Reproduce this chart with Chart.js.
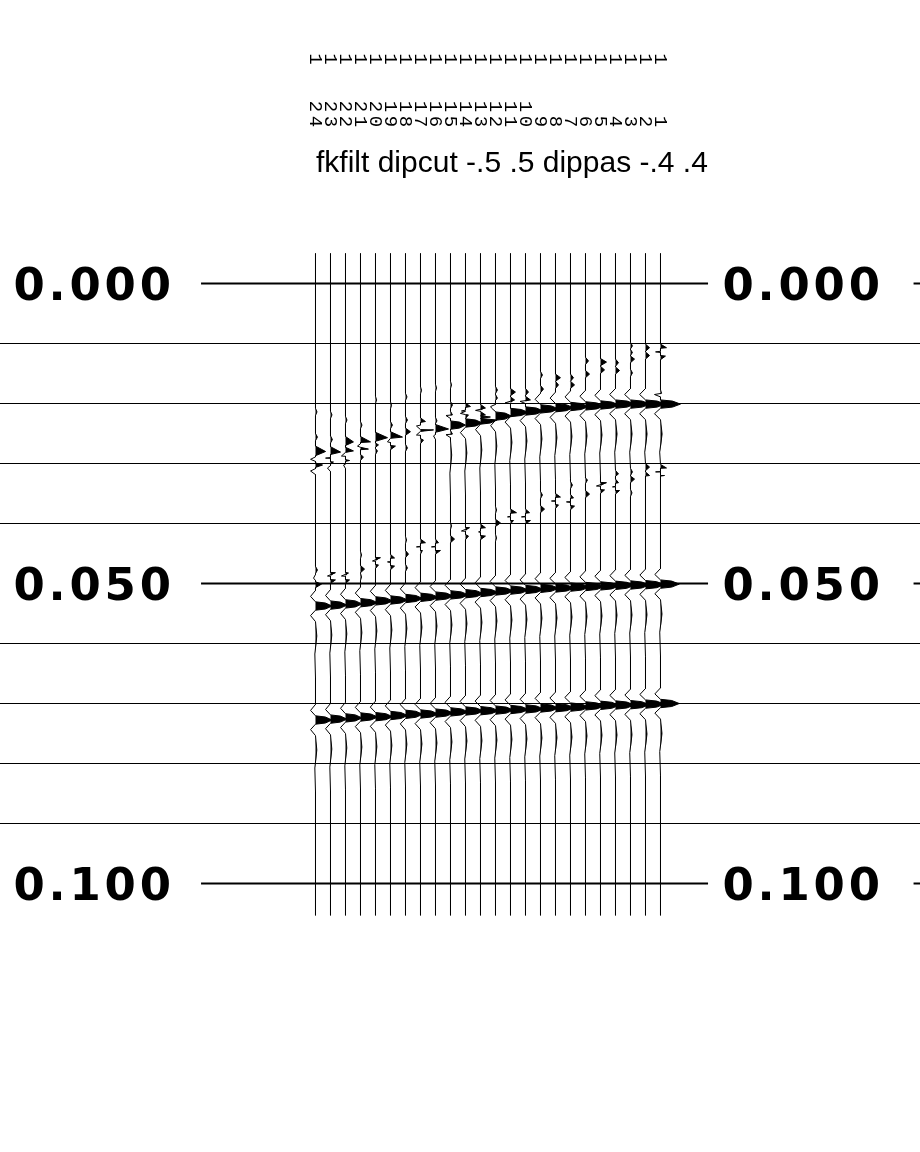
<!DOCTYPE html>
<html>
<head>
<meta charset="utf-8">
<title>fkfilt dipcut</title>
<script src="https://cdn.jsdelivr.net/npm/chart.js@4/dist/chart.umd.js"></script>
<style>
    html, body { margin: 0; background: #fff; }
    canvas { display: block; }
</style>
</head>
<body>
<canvas id="seismicChart" width="920" height="1152"></canvas>
<script>
const titleText = 'fkfilt dipcut -.5 .5 dippas -.4 .4';

// Trace numbers, left to right
const traceNumbers = [24, 23, 22, 21, 20, 19, 18, 17, 16, 15, 14, 13, 12, 11, 10, 9, 8, 7, 6, 5, 4, 3, 2, 1];
const keyLabels = ['1', '1', '1', '1', '1', '1', '1', '1', '1', '1', '1', '1', '1', '1', '1', '1', '1', '1', '1', '1', '1', '1', '1', '1'];

// Time axis (s)
const gridTimes = [0, 0.01, 0.02, 0.03, 0.04, 0.05, 0.06, 0.07, 0.08, 0.09, 0.1];
const majorTimes = [0, 0.05, 0.1];
const majorLabels = ['0.000', '0.050', '0.100'];
const traceStartMs = -5;
const traceEndMs = 105.3;

// Strong dipping reflectors: arrival time (ms) and amplitude (trace spacings) for each trace
const reflectorB = [53.75, 53.6, 53.4, 53.2, 52.9, 52.75, 52.5, 52.3, 52.1, 51.9, 51.7, 51.5, 51.25, 51.1, 51, 50.8, 50.75, 50.6, 50.5, 50.4, 50.3, 50.25, 50.2, 50.1];
const reflectorC = [72.75, 72.6, 72.4, 72.25, 72.2, 72, 71.8, 71.75, 71.6, 71.4, 71.25, 71.2, 71.1, 71, 70.9, 70.75, 70.7, 70.6, 70.4, 70.3, 70.25, 70.2, 70.1, 70];
const reflectorAmpB = [1.1, 1.1, 1.1, 1.15, 1.15, 1.15, 1.15, 1.2, 1.2, 1.2, 1.2, 1.2, 1.2, 1.2, 1.2, 1.2, 1.25, 1.25, 1.25, 1.25, 1.25, 1.25, 1.25, 1.25];
const reflectorAmpC = [1.1, 1.1, 1.1, 1.15, 1.15, 1.15, 1.15, 1.2, 1.2, 1.2, 1.2, 1.2, 1.2, 1.2, 1.2, 1.2, 1.25, 1.25, 1.25, 1.25, 1.25, 1.25, 1.25, 1.25];

// Shape of a strong arrival around its peak: thick band with a tapering nose
const waveletMs = [-2.6, -1.6, -0.7, -0.5, 0, 0.5, 0.7, 1.6, 2.6, 5, 8, 12];
const waveletGain = [0, -0.3, 0, 0.6, 1, 0.6, 0, -0.3, 0, 0.08, -0.04, 0];

// Smaller arrivals per trace, flat pairs of time (ms), amplitude
const spikes0 = [21.4, .1, 25.6, .13, 28, .67, 29.3, -.33, 30.25, .47, 31.25, -.33, 47.75, .13, 49.1, -.13, 50.1, .4];
const spikes1 = [21.9, .1, 26, .13, 28.1, .67, 29.1, -.33, 29.75, .2, 30.75, -.2, 48.2, .33, 48.75, -.2, 49.4, .33];
const spikes2 = [22.75, .1, 26.4, .53, 27.9, .53, 28.75, -.27, 29.5, .27, 30.25, -.13, 48.25, .2, 48.75, -.27, 49.4, .27];
const spikes3 = [23.6, .1, 26.4, .67, 27.1, -.2, 27.6, .53, 28.9, .2, 45.25, .07, 47.6, .27, 48.9, .07];
const spikes4 = [19.4, .07, 25.7, .8, 26.9, .2, 27.9, .13, 45.7, .33, 46.25, -.2, 46.9, .2];
const spikes5 = [20.3, .07, 23.6, .13, 25.6, .8, 26.4, -.2, 27.1, .33, 45.75, .27, 46.4, -.2, 47.1, .27];
const spikes6 = [18.9, .1, 22.75, .13, 24.7, .33, 27.4, .13, 42.75, .07, 45.1, .2, 47.4, .13];
const spikes7 = [17.8, .07, 23, .33, 23.75, -.27, 24.4, .87, 25.25, -.27, 26.1, .2, 43.2, .33, 43.9, -.27, 44.5, .13];
const spikes8 = [17.4, .07, 22.9, .1, 24.25, .87, 25.4, -.13, 43.2, .2, 43.9, -.27, 44.5, .33];
const spikes9 = [16.9, .07, 20.25, .13, 21.9, .13, 23.6, 1, 25.1, .13, 40.4, .07, 42.6, .27];
const spikes10 = [20.5, .33, 21.25, -.27, 21.9, .2, 23.25, 1.13, 40.7, .27, 41.25, -.27, 42.1, .2];
const spikes11 = [20.75, .33, 21.9, .33, 22.75, 1.1, 40.7, .33, 41.4, -.13, 42.1, .33];
const spikes12 = [17.75, .13, 19.1, .13, 20.75, -.27, 22.1, 1.07, 37.75, .07, 39.9, .33, 42.4, .07];
const spikes13 = [18.1, .33, 19.4, .27, 21.5, 1.2, 38.2, .4, 38.9, -.2, 39.5, .2];
const spikes14 = [18.1, .2, 19.4, .33, 21.25, 1.2, 38.2, .27, 38.9, -.27, 39.5, .33];
const spikes15 = [15.25, .13, 17.6, .2, 20.9, 1.2, 35.25, .13, 37.6, .27];
const spikes16 = [15.7, .33, 16.9, .2, 20.7, 1.2, 35.6, .33, 36.25, -.27, 36.9, .2];
const spikes17 = [15.7, .2, 16.9, .27, 20.5, 1.2, 33.6, .13, 35.75, .2, 36.4, -.27, 37.1, .27];
const spikes18 = [12.9, .2, 15.1, .27, 20.4, 1.25, 32.75, .13, 35.1, .27];
const spikes19 = [13.1, .4, 14.4, .27, 20.25, 1.25, 33.2, .4, 33.75, -.27, 34.4, .27];
const spikes20 = [13.2, .2, 14.5, .27, 20.1, 1.3, 31.75, .2, 33.2, .2, 33.9, -.2, 34.5, .27];
const spikes21 = [10.4, .13, 11.5, .13, 12.6, .27, 14.9, .13, 20.1, 1.3, 31.4, .13, 32.6, .27, 34.9, .1];
const spikes22 = [10.7, .27, 12, .27, 20.1, 1.3, 30.6, .27, 32, .27];
const spikes23 = [10.7, .4, 11.4, -.33, 12.1, .33, 18.3, .07, 20.1, 1.33, 30.75, .4, 31.4, -.33, 32, .27];
const traceSpikes = [spikes0, spikes1, spikes2, spikes3, spikes4, spikes5, spikes6, spikes7, spikes8, spikes9, spikes10, spikes11,
    spikes12, spikes13, spikes14, spikes15, spikes16, spikes17, spikes18, spikes19, spikes20, spikes21, spikes22, spikes23];

// One trace as [time ms, amplitude] samples, sorted by time
function traceSamples(i) {
    const samples = [[traceStartMs, 0], [traceEndMs, 0]];
    const list = traceSpikes[i];
    for (let k = 0; k < list.length; k += 2) {
        const t = list[k], a = list[k + 1];
        if (a >= 1) {
            waveletMs.forEach((w, n) => samples.push([t + w, a * waveletGain[n]]));
        } else {
            const half = a > 0.5 ? 0.9 : 0.6;
            samples.push([t - half, 0], [t, a], [t + half, 0]);
        }
    }
    waveletMs.forEach((w, n) => samples.push([reflectorB[i] + w, reflectorAmpB[i] * waveletGain[n]]));
    waveletMs.forEach((w, n) => samples.push([reflectorC[i] + w, reflectorAmpC[i] * waveletGain[n]]));
    return samples.sort((p, q) => p[0] - q[0]);
}

// The x scale runs backwards, so a push to the right is a smaller value
function buildDatasets() {
    const datasets = [];
    majorTimes.forEach(t => {
        [[31.63, -2.17], [-15.87, -16.3]].forEach(([a, b]) => {
            datasets.push({
                data: [{ x: a, y: t }, { x: b, y: t }],
                borderColor: '#000',
                borderWidth: 2,
                pointRadius: 0
            });
        });
    });
    traceNumbers.forEach((trace, i) => {
        const samples = traceSamples(i);
        datasets.push({
            data: samples.map(s => ({ x: trace - Math.max(s[1], 0), y: s[0] / 1000 })),
            borderWidth: 0,
            pointRadius: 0,
            backgroundColor: '#000',
            fill: { value: trace }
        });
        datasets.push({
            data: samples.map(s => ({ x: trace - s[1], y: s[0] / 1000 })),
            borderColor: '#000',
            borderWidth: 1,
            pointRadius: 0,
            fill: false
        });
    });
    return datasets;
}

const xRange = { type: 'linear', min: -16.3, max: 45.0333, reverse: true };

function headerAxis(anchorTime, labelFor) {
    return {
        ...xRange,
        position: { y: anchorTime },
        grid: { display: false },
        border: { display: false },
        afterBuildTicks: scale => { scale.ticks = traceNumbers.map(v => ({ value: v })); },
        ticks: {
            autoSkip: false,
            minRotation: -90,
            maxRotation: -90,
            padding: 0,
            color: '#000',
            font: { family: '"Liberation Mono"', size: 19 },
            callback: labelFor
        }
    };
}

// Title and big time labels need their own letter spacing, so they are painted here
const textPlugin = {
    id: 'textPlugin',
    beforeDraw(chart) {
        chart.ctx.letterSpacing = '3.6px';
    },
    afterDraw(chart) {
        const ctx = chart.ctx;
        const yScale = chart.scales.y;
        ctx.save();
        ctx.fillStyle = '#000';
        ctx.textBaseline = 'alphabetic';
        ctx.textAlign = 'left';
        ctx.letterSpacing = '0px';
        ctx.font = '30px "Liberation Sans"';
        ctx.fillText(titleText, 316, 172);
        ctx.letterSpacing = '3.8px';
        ctx.font = 'bold 45px "DejaVu Sans"';
        majorTimes.forEach((t, i) => {
            const y = yScale.getPixelForValue(t) + 16;
            ctx.fillText(majorLabels[i], 13.5, y);
            ctx.fillText(majorLabels[i], 722.5, y);
        });
        ctx.restore();
    }
};

new Chart(document.getElementById('seismicChart').getContext('2d'), {
    type: 'line',
    data: { datasets: buildDatasets() },
    plugins: [textPlugin],
    options: {
        indexAxis: 'y',
        responsive: false,
        animation: false,
        events: [],
        layout: { padding: 0 },
        plugins: { legend: { display: false }, tooltip: { enabled: false }, title: { display: false } },
        scales: {
            x: { ...xRange, display: false },
            y: {
                type: 'linear',
                reverse: true,
                min: -0.04725,
                max: 0.14475,
                position: 'left',
                border: { display: false },
                afterBuildTicks: scale => { scale.ticks = gridTimes.map(v => ({ value: v })); },
                grid: {
                    drawTicks: false,
                    lineWidth: 1,
                    color: ctx => majorTimes.includes(ctx.tick.value) ? 'rgba(0,0,0,0)' : '#000'
                },
                ticks: { display: false }
            },
            xKey: headerAxis(-0.0372, (v, i) => keyLabels[i]),
            xTrace: headerAxis(-0.0268, v => String(v))
        }
    }
});
</script>
</body>
</html>
